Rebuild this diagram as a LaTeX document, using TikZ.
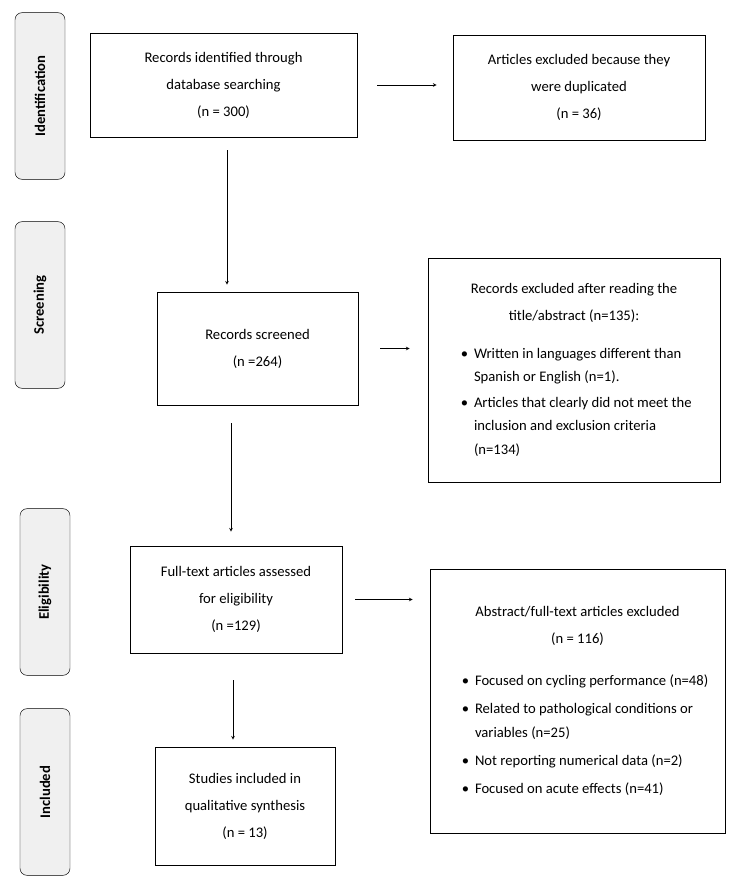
\documentclass[tikz,border=0pt]{standalone}
\usepackage{fontspec}
\setmainfont{Carlito}
\usepackage{enumitem}
\usetikzlibrary{positioning}
\newcommand{\boxfont}{\fontsize{12.5}{23}\selectfont}
\newcommand{\listfont}{\fontsize{12.5}{20}\selectfont}
\tikzset{
  stage/.style={draw, rounded corners=6pt, fill=gray!12, minimum width=1.5cm, minimum height=5cm},
  box/.style={draw, thick, align=center, inner sep=0pt, font=\boxfont},
  flow/.style={->, >=stealth, thin}
}
\begin{document}
\begin{tikzpicture}[x=0.03cm, y=-0.03cm]
  \useasboundingbox (0,0) rectangle (749,889);
  % stage labels
  \node[stage] (sId) at (40,96) {\rotatebox{90}{\boxfont\bfseries Identification}};
  \node[stage] (sSc) at (40,305) {\rotatebox{90}{\boxfont\bfseries Screening}};
  \node[stage] (sEl) at (45,592) {\rotatebox{90}{\boxfont\bfseries Eligibility}};
  \node[stage] (sIn) at (45,792) {\rotatebox{90}{\boxfont\bfseries Included}};
  % boxes
  \node[box, minimum width=8.01cm, minimum height=3.12cm] (ident) at (223.5,85)
    {Records identified through\\ database searching\\ (n = 300)};
  \node[box, minimum width=7.56cm, minimum height=3.15cm] (dupl) at (579,87.5)
    {Articles excluded because they\\ were duplicated\\ (n = 36)};
  \node[box, minimum width=6.03cm, minimum height=3.39cm] (screen) at (257.5,348.5)
    {Records screened\\ (n =264)};
  \node[box, minimum width=8.76cm, minimum height=6.72cm] (excl) at (574,370)
    {\begin{minipage}{7.8cm}\boxfont
      \centering Records excluded after reading the\\ title/abstract (n=135):\par
      \raggedright\listfont
      \begin{itemize}[leftmargin=0.9cm, itemsep=2pt, topsep=10pt, parsep=0pt]
        \item Written in languages different than Spanish or English (n=1).
        \item Articles that clearly did not meet the inclusion and exclusion criteria (n=134)
      \end{itemize}
    \end{minipage}};
  \node[box, minimum width=6.36cm, minimum height=3.21cm] (full) at (236,599.5)
    {Full-text articles assessed\\ for eligibility\\ (n =129)};
  \node[box, minimum width=8.85cm, minimum height=7.92cm] (abst) at (577.5,701)
    {\begin{minipage}{7.95cm}\boxfont
      \centering Abstract/full-text articles excluded\\ (n = 116)\par
      \raggedright\listfont
      \begin{itemize}[leftmargin=0.9cm, itemsep=4pt, topsep=14pt, parsep=0pt]
        \item Focused on cycling performance (n=48)
        \item Related to pathological conditions or variables (n=25)
        \item Not reporting numerical data (n=2)
        \item Focused on acute effects (n=41)
      \end{itemize}
    \end{minipage}};
  \node[box, minimum width=5.4cm, minimum height=3.54cm] (incl) at (245,806)
    {Studies included in\\ qualitative synthesis\\ (n = 13)};
  % connectors
  \draw[flow, shorten <=0.6cm, shorten >=0.48cm] (ident.east) -- (ident.east -| dupl.west);
  \draw[flow, shorten <=0.39cm, shorten >=0.21cm] (ident.south -| 227,0) -- (screen.north -| 227,0);
  \draw[flow, shorten <=0.66cm, shorten >=0.54cm] (screen.east) -- (screen.east -| excl.west);
  \draw[flow, shorten <=0.54cm, shorten >=0.42cm] (screen.south -| 231,0) -- (full.north -| 231,0);
  \draw[flow, shorten <=0.39cm, shorten >=0.51cm] (full.east) -- (full.east -| abst.west);
  \draw[flow, shorten <=0.81cm, shorten >=0.21cm] (full.south -| 233,0) -- (incl.north -| 233,0);
\end{tikzpicture}
\end{document}
